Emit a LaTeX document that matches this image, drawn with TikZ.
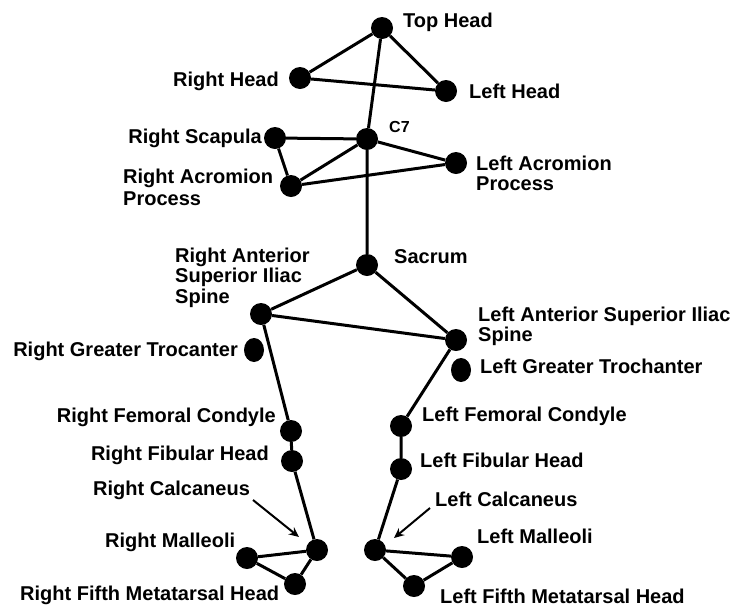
\documentclass[tikz,border=0pt]{standalone}
\usepackage{fontspec}
\setmainfont{Liberation Sans}
\usetikzlibrary{arrows.meta,shapes.geometric}
\begin{document}
\begin{tikzpicture}[x=1pt,y=-1pt,
  dot/.style={circle,fill=black,inner sep=0pt,minimum size=22pt},
  oval/.style={ellipse,fill=black,inner sep=0pt,minimum width=20pt,minimum height=24pt},
  bone/.style={line width=3pt},
  lbl/.style={font=\fontsize{20}{21}\selectfont\bfseries,inner sep=0pt,align=left},
  pointer/.style={line width=2pt,-{Stealth[length=10pt,width=9pt]}}]
\useasboundingbox (0,0) rectangle (736,606);
% markers
\node[dot] (tophead) at (382,28) {};
\node[dot] (rhead) at (300,78) {};
\node[dot] (lhead) at (446,91) {};
\node[dot] (c7) at (367,139) {};
\node[dot] (rscap) at (275,138) {};
\node[dot] (racr) at (291,186) {};
\node[dot] (lacr) at (456,163) {};
\node[dot] (sacrum) at (367,265) {};
\node[dot] (rasis) at (261,314) {};
\node[dot] (lasis) at (456,340) {};
\node[oval] (rgt) at (254,350) {};
\node[oval] (lgt) at (461,370) {};
\node[dot] (rfc) at (291,431) {};
\node[dot] (rfh) at (292,461) {};
\node[dot] (lfc) at (401,426) {};
\node[dot] (lfh) at (401,469) {};
\node[dot] (rcal) at (317,550) {};
\node[dot] (rmal) at (247,558) {};
\node[dot] (rmet) at (295,584) {};
\node[dot] (lcal) at (375,550) {};
\node[dot] (lmal) at (462,557) {};
\node[dot] (lmet) at (414,586) {};
% connectors
\draw[bone] (tophead) -- (rhead) -- (lhead) -- (tophead);
\draw[bone] (tophead) -- (c7) -- (sacrum);
\draw[bone] (c7) -- (rscap) -- (racr) -- (c7) -- (lacr) -- (racr);
\draw[bone] (sacrum) -- (rasis) -- (lasis) -- (sacrum);
\draw[bone] (rasis) -- (rfc) -- (rfh) -- (rcal);
\draw[bone] (lasis) -- (lfc) -- (lfh) -- (lcal);
\draw[bone] (rcal) -- (rmal) -- (rmet) -- (rcal);
\draw[bone] (lcal) -- (lmal) -- (lmet) -- (lcal);
% labels
\node[lbl,anchor=base west] (t1) at (403,27) {Top Head};
\node[lbl,anchor=base east] (t2) at (279,86) {Right Head};
\node[lbl,anchor=base west] (t3) at (469,98) {Left Head};
\node[lbl,anchor=base west,font=\fontsize{16}{18}\selectfont\bfseries] (t4) at (389,132) {C7};
\node[lbl,anchor=base east] (t5) at (262,143) {Right Scapula};
\node[lbl,anchor=base west,font=\fontsize{20}{22}\selectfont\bfseries] (t6) at (123,205) {Right Acromion\\Process};
\node[lbl,anchor=base west,font=\fontsize{20}{20}\selectfont\bfseries] (t7) at (476,190) {Left Acromion\\Process};
\node[lbl,anchor=base west] (t8) at (394,263) {Sacrum};
\node[lbl,anchor=base west,font=\fontsize{20}{20.5}\selectfont\bfseries] (t9) at (175,303) {Right Anterior\\Superior Iliac\\Spine};
\node[lbl,anchor=base west,font=\fontsize{20}{20}\selectfont\bfseries] (t10) at (478,341) {Left Anterior Superior Iliac\\Spine};
\node[lbl,anchor=base east] (t11) at (238,356) {Right Greater Trocanter};
\node[lbl,anchor=base west] (t12) at (480,373) {Left Greater Trochanter};
\node[lbl,anchor=base east] (t13) at (276,422) {Right Femoral Condyle};
\node[lbl,anchor=base east] (t14) at (269,460) {Right Fibular Head};
\node[lbl,anchor=base west] (t15) at (93,495) {Right Calcaneus};
\node[lbl,anchor=base west] (t16) at (105,547) {Right Malleoli};
\node[lbl,anchor=base west] (t17) at (20,600) {Right Fifth Metatarsal Head};
\node[lbl,anchor=base west] (t18) at (422,421) {Left Femoral Condyle};
\node[lbl,anchor=base west] (t19) at (420,467) {Left Fibular Head};
\node[lbl,anchor=base west] (t20) at (435,506) {Left Calcaneus};
\node[lbl,anchor=base west] (t21) at (477,543) {Left Malleoli};
\node[lbl,anchor=base west] (t22) at (440,603) {Left Fifth Metatarsal Head};
% arrows
\coordinate (ra1) at (253,500);
\coordinate (ra2) at (299,537);
\coordinate (la1) at (430,508);
\coordinate (la2) at (394,538);
\draw[pointer] (ra1) -- (ra2);
\draw[pointer] (la1) -- (la2);
\end{tikzpicture}
\end{document}
